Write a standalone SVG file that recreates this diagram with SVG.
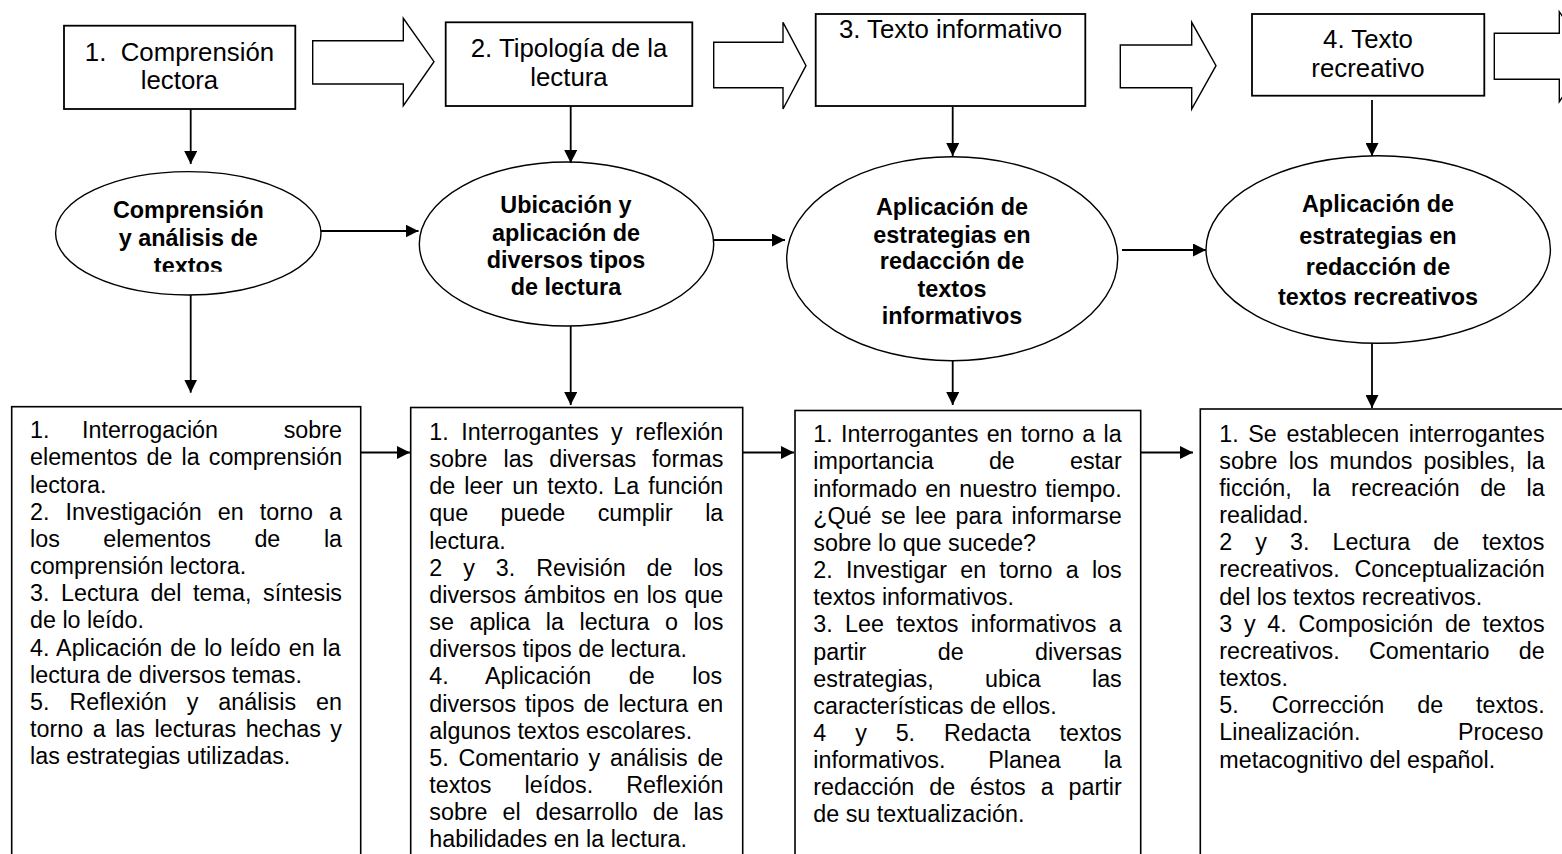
<svg xmlns="http://www.w3.org/2000/svg" width="1562" height="854" viewBox="0 0 1562 854">
<style>
.bx{fill:#fff;stroke:#000;stroke-width:1.8}
.bb{fill:#fff;stroke:#000;stroke-width:1.6}
.el{fill:#fff;stroke:#000;stroke-width:1.4}
.ba{fill:#fff;stroke:#000;stroke-width:1.4;stroke-linejoin:miter}
.cn{fill:none;stroke:#000;stroke-width:1.8}
.tt{font-family:"Liberation Sans",Arial,sans-serif;font-size:25.8px;fill:#000;text-anchor:middle}
.et{font-family:"Liberation Sans",Arial,sans-serif;font-size:23.4px;font-weight:bold;fill:#000;text-anchor:middle}
.bt{font-family:"Liberation Sans",Arial,sans-serif;font-size:23.3px;fill:#000}
</style>
<defs>
<marker id="ah" markerUnits="userSpaceOnUse" markerWidth="13" markerHeight="13" refX="13" refY="6.5" orient="auto">
<path d="M0,0 L13,6.5 L0,13 z" fill="#000"/>
</marker>
<clipPath id="c1"><rect x="0" y="0" width="400" height="271.7"/></clipPath>
</defs>
<rect width="1562" height="854" fill="#fff"/>

<g id="block-arrows">
<polygon class="ba" points="312.7,40.7 403.3,40.7 403.3,18.3 434,61.7 403.3,105.7 403.3,84 312.7,84"/>
<polygon class="ba" points="713.7,42.3 783,42.3 783,22.3 806,65.7 783,109 783,87.7 713.7,87.7"/>
<polygon class="ba" points="1120.3,45 1191.7,45 1191.7,22.3 1216,65.7 1191.7,109 1191.7,87.7 1120.3,87.7"/>
<polygon class="ba" points="1494.3,33.3 1559.3,33.3 1559.3,11.7 1590,56.7 1559.3,101.7 1559.3,79.3 1494.3,79.3"/>
</g>

<g id="topic1">
<rect class="bx" x="64" y="25.7" width="231.3" height="83.3"/>
<text class="tt" x="179.5" y="61">1.&#160; Comprensión</text>
<text class="tt" x="179.5" y="89">lectora</text>
</g>
<g id="topic2">
<rect class="bx" x="445.7" y="22.3" width="246.6" height="83.7"/>
<text class="tt" x="569" y="56.7">2. Tipología de la</text>
<text class="tt" x="569" y="86">lectura</text>
</g>
<g id="topic3">
<rect class="bx" x="815.7" y="14" width="269.6" height="92"/>
<text class="tt" x="950.5" y="38.3">3. Texto informativo</text>
</g>
<g id="topic4">
<rect class="bx" x="1252" y="14" width="232.3" height="81.7"/>
<text class="tt" x="1368" y="47.7">4. Texto</text>
<text class="tt" x="1368" y="76.7">recreativo</text>
</g>

<g id="goal1">
<ellipse class="el" cx="188.3" cy="233.3" rx="132.7" ry="61.7"/>
<text class="et" x="188.3" y="218.3">Comprensión</text>
<text class="et" x="188.3" y="246">y análisis de</text>
<text class="et" x="188.3" y="273.8" clip-path="url(#c1)">textos</text>
</g>
<g id="goal2">
<ellipse class="el" cx="566.5" cy="244" rx="147.2" ry="82"/>
<text class="et" x="566" y="213.3">Ubicación y</text>
<text class="et" x="566" y="240.7">aplicación de</text>
<text class="et" x="566" y="268.3">diversos tipos</text>
<text class="et" x="566" y="295">de lectura</text>
</g>
<g id="goal3">
<ellipse class="el" cx="952.2" cy="258.7" rx="165.5" ry="102"/>
<text class="et" x="952" y="215">Aplicación de</text>
<text class="et" x="952" y="242.7">estrategias en</text>
<text class="et" x="952" y="269.3">redacción de</text>
<text class="et" x="952" y="296.7">textos</text>
<text class="et" x="952" y="324">informativos</text>
</g>
<g id="goal4">
<ellipse class="el" cx="1378.2" cy="249.5" rx="172.2" ry="93.8"/>
<text class="et" x="1378" y="211.7">Aplicación de</text>
<text class="et" x="1378" y="244">estrategias en</text>
<text class="et" x="1378" y="275">redacción de</text>
<text class="et" x="1378" y="305">textos recreativos</text>
</g>

<g id="activities1">
<rect class="bb" x="11.7" y="406.7" width="349" height="500"/>
<text class="bt" x="30" y="438.3">1.</text>
<text class="bt" x="82" y="438.3">Interrogación</text>
<text class="bt" x="342" y="438.3" text-anchor="end">sobre</text>
<text class="bt" x="30" y="465.45" style="word-spacing:2.6px">elementos de la comprensión</text>
<text class="bt" x="30" y="492.6">lectora.</text>
<text class="bt" x="30" y="519.75" style="word-spacing:9.7px">2. Investigación en torno a</text>
<text class="bt" x="30" y="546.9" style="word-spacing:37.1px">los elementos de la</text>
<text class="bt" x="30" y="574.05">comprensión lectora.</text>
<text class="bt" x="30" y="601.2" style="word-spacing:5.16px">3. Lectura del tema, síntesis</text>
<text class="bt" x="30" y="628.35">de lo leído.</text>
<text class="bt" x="30" y="655.5" style="word-spacing:1.49px">4. Aplicación de lo leído en la</text>
<text class="bt" x="30" y="682.65">lectura de diversos temas.</text>
<text class="bt" x="30" y="709.8" style="word-spacing:13.58px">5. Reflexión y análisis en</text>
<text class="bt" x="30" y="736.95" style="word-spacing:3.09px">torno a las lecturas hechas y</text>
<text class="bt" x="30" y="764.1">las estrategias utilizadas.</text>
</g>

<g id="activities2">
<rect class="bb" x="410.7" y="407.5" width="332" height="500"/>
<text class="bt" x="429.3" y="440" style="word-spacing:6.05px">1. Interrogantes y reflexión</text>
<text class="bt" x="429.3" y="467.15" style="word-spacing:9.52px">sobre las diversas formas</text>
<text class="bt" x="429.3" y="494.3" style="word-spacing:2.59px">de leer un texto. La función</text>
<text class="bt" x="429.3" y="521.45" style="word-spacing:25.9px">que puede cumplir la</text>
<text class="bt" x="429.3" y="548.6">lectura.</text>
<text class="bt" x="429.3" y="575.75" style="word-spacing:14.5px">2 y 3. Revisión de los</text>
<text class="bt" x="429.3" y="602.9" style="word-spacing:1.3px">diversos ámbitos en los que</text>
<text class="bt" x="429.3" y="630.05" style="word-spacing:9.07px">se aplica la lectura o los</text>
<text class="bt" x="429.3" y="657.2">diversos tipos de lectura.</text>
<text class="bt" x="429.3" y="684.35" style="word-spacing:31.1px">4. Aplicación de los</text>
<text class="bt" x="429.3" y="711.5" style="word-spacing:2.6px">diversos tipos de lectura en</text>
<text class="bt" x="429.3" y="738.65">algunos textos escolares.</text>
<text class="bt" x="429.3" y="765.8" style="word-spacing:3.25px">5. Comentario y análisis de</text>
<text class="bt" x="429.3" y="792.95" style="word-spacing:26.6px">textos leídos. Reflexión</text>
<text class="bt" x="429.3" y="820.1" style="word-spacing:8.43px">sobre el desarrollo de las</text>
<text class="bt" x="429.3" y="847.25">habilidades en la lectura.</text>
</g>

<g id="activities3">
<rect class="bb" x="795" y="410.5" width="345.7" height="500"/>
<text class="bt" x="813.3" y="442.3" style="word-spacing:1.84px">1. Interrogantes en torno a la</text>
<text class="bt" x="813.3" y="469.45" style="word-spacing:48.7px">importancia de estar</text>
<text class="bt" x="813.3" y="496.6" style="word-spacing:1.79px">informado en nuestro tiempo.</text>
<text class="bt" x="813.3" y="523.75" style="word-spacing:2.96px">¿Qué se lee para informarse</text>
<text class="bt" x="813.3" y="550.9">sobre lo que sucede?</text>
<text class="bt" x="813.3" y="578.05" style="word-spacing:6.77px">2. Investigar en torno a los</text>
<text class="bt" x="813.3" y="605.2">textos informativos.</text>
<text class="bt" x="813.3" y="632.35" style="word-spacing:5.87px">3. Lee textos informativos a</text>
<text class="bt" x="813.3" y="659.5" style="word-spacing:64.9px">partir de diversas</text>
<text class="bt" x="813.3" y="686.65" style="word-spacing:44.8px">estrategias, ubica las</text>
<text class="bt" x="813.3" y="713.8">características de ellos.</text>
<text class="bt" x="813.3" y="740.95" style="word-spacing:22.4px">4 y 5. Redacta textos</text>
<text class="bt" x="813.3" y="768.1" style="word-spacing:36.4px">informativos. Planea la</text>
<text class="bt" x="813.3" y="795.25" style="word-spacing:8.46px">redacción de éstos a partir</text>
<text class="bt" x="813.3" y="822.4">de su textualización.</text>
</g>

<g id="activities4">
<rect class="bb" x="1200.3" y="409" width="500" height="500"/>
<text class="bt" x="1219.3" y="441.7" style="word-spacing:3.13px">1. Se establecen interrogantes</text>
<text class="bt" x="1219.3" y="468.85" style="word-spacing:4.63px">sobre los mundos posibles, la</text>
<text class="bt" x="1219.3" y="496" style="word-spacing:14px">ficción, la recreación de la</text>
<text class="bt" x="1219.3" y="523.15">realidad.</text>
<text class="bt" x="1219.3" y="550.3" style="word-spacing:16.6px">2 y 3. Lectura de textos</text>
<text class="bt" x="1219.3" y="577.45" style="word-spacing:8.2px">recreativos. Conceptualización</text>
<text class="bt" x="1219.3" y="604.6">del los textos recreativos.</text>
<text class="bt" x="1219.3" y="631.75" style="word-spacing:5.25px">3 y 4. Composición de textos</text>
<text class="bt" x="1219.3" y="658.9" style="word-spacing:22.86px">recreativos. Comentario de</text>
<text class="bt" x="1219.3" y="686.05">textos.</text>
<text class="bt" x="1219.3" y="713.2" style="word-spacing:26.45px">5. Corrección de textos.</text>
<text class="bt" x="1219.3" y="740.35" style="word-spacing:91px">Linealización. Proceso</text>
<text class="bt" x="1219.3" y="767.5">metacognitivo del español.</text>
</g>

<g id="connectors">
<line class="cn" x1="190.7" y1="109" x2="190.7" y2="164" marker-end="url(#ah)"/>
<line class="cn" x1="570.7" y1="106" x2="570.7" y2="163" marker-end="url(#ah)"/>
<line class="cn" x1="952.7" y1="107" x2="952.7" y2="156" marker-end="url(#ah)"/>
<line class="cn" x1="1372" y1="100" x2="1372" y2="156" marker-end="url(#ah)"/>
<line class="cn" x1="321" y1="231" x2="418.5" y2="231" marker-end="url(#ah)"/>
<line class="cn" x1="713.7" y1="240" x2="785" y2="240" marker-end="url(#ah)"/>
<line class="cn" x1="1122" y1="250" x2="1206" y2="250" marker-end="url(#ah)"/>
<line class="cn" x1="190.7" y1="295" x2="190.7" y2="392.7" marker-end="url(#ah)"/>
<line class="cn" x1="570.7" y1="326" x2="570.7" y2="405" marker-end="url(#ah)"/>
<line class="cn" x1="952.7" y1="360.7" x2="952.7" y2="405" marker-end="url(#ah)"/>
<line class="cn" x1="1372" y1="343.3" x2="1372" y2="408" marker-end="url(#ah)"/>
<line class="cn" x1="360.7" y1="452.5" x2="410" y2="452.5" marker-end="url(#ah)"/>
<line class="cn" x1="742.7" y1="452.5" x2="794" y2="452.5" marker-end="url(#ah)"/>
<line class="cn" x1="1140.7" y1="452.5" x2="1193" y2="452.5" marker-end="url(#ah)"/>
</g>
</svg>
